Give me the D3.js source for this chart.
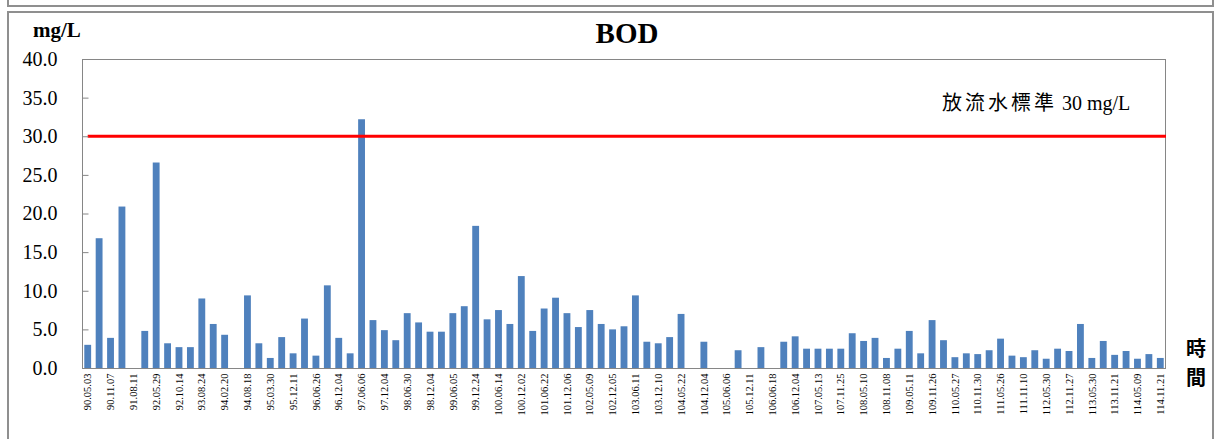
<!DOCTYPE html>
<html>
<head>
<meta charset="utf-8">
<script src="https://cdn.jsdelivr.net/npm/d3@7"></script>
<style>
  body { margin: 0; background: #fff; }
  svg { display: block; }
</style>
</head>
<body>
<svg id="chart" width="1221" height="439"></svg>
<script>
// sampling dates (every other sample is labelled on the axis)
const tickLabels = [
  "90.05.03", "90.11.07", "91.08.11", "92.05.29", "92.10.14", "93.08.24",
  "94.02.20", "94.08.18", "95.03.30", "95.12.11", "96.06.26", "96.12.04",
  "97.06.06", "97.12.04", "98.06.30", "98.12.04", "99.06.05", "99.12.24",
  "100.06.14", "100.12.02", "101.06.22", "101.12.06", "102.05.09", "102.12.05",
  "103.06.11", "103.12.10", "104.05.22", "104.12.04", "105.06.06", "105.12.11",
  "106.06.18", "106.12.04", "107.05.13", "107.11.25", "108.05.10", "108.11.08",
  "109.05.11", "109.11.26", "110.05.27", "110.11.30", "111.05.26", "111.11.10",
  "112.05.30", "112.11.27", "113.05.30", "113.11.21", "114.05.09", "114.11.21"
];

// BOD in mg/L, one value per sample
const bod = [
  3.0, 16.8, 3.9, 20.9, 0, 4.8, 26.6, 3.2, 2.7, 2.7,
  9.0, 5.7, 4.3, 0, 9.4, 3.2, 1.3, 4.0, 1.9, 6.4,
  1.6, 10.7, 3.9, 1.9, 32.2, 6.2, 4.9, 3.6, 7.1, 5.9,
  4.7, 4.7, 7.1, 8.0, 18.4, 6.3, 7.5, 5.7, 11.9, 4.8,
  7.7, 9.1, 7.1, 5.3, 7.5, 5.7, 5.0, 5.4, 9.4, 3.4,
  3.2, 4.0, 7.0, 0, 3.4, 0, 0, 2.3, 0, 2.7,
  0, 3.4, 4.1, 2.5, 2.5, 2.5, 2.5, 4.5, 3.5, 3.9,
  1.3, 2.5, 4.8, 1.9, 6.2, 3.6, 1.4, 1.9, 1.8, 2.3,
  3.8, 1.6, 1.4, 2.3, 1.2, 2.5, 2.2, 5.7, 1.3, 3.5,
  1.7, 2.2, 1.2, 1.8, 1.3
];

const yTicks = [0, 5, 10, 15, 20, 25, 30, 35, 40];
const standard = 30;
const standardName = "放流水標準";
const standardUnit = " 30 mg/L";

const serif = "'Liberation Serif', 'Times New Roman', serif";
const cjk = "'Liberation Serif', 'Noto Sans CJK TC', serif";

const svg = d3.select("#chart");
const plotLeft = 82, plotRight = 1166, plotTop = 59, plotBottom = 368;

// frames of the page boxes
svg.append("rect")
  .attr("x", 8).attr("y", -20).attr("width", 1205).attr("height", 26)
  .attr("fill", "none").attr("stroke", "#8f8f8f").attr("stroke-width", 2);
svg.append("rect")
  .attr("x", 8).attr("y", 12).attr("width", 1205).attr("height", 460)
  .attr("fill", "none").attr("stroke", "#8f8f8f").attr("stroke-width", 2);

const x = d3.scaleBand()
  .domain(d3.range(bod.length))
  .range([plotLeft, plotRight])
  .paddingInner(0.4)
  .paddingOuter(0.2);

const y = d3.scaleLinear()
  .domain([0, 40])
  .range([plotBottom, plotTop]);

// plot area
svg.append("rect")
  .attr("x", plotLeft + 0.5).attr("y", plotTop + 0.5)
  .attr("width", plotRight - plotLeft - 1).attr("height", plotBottom - plotTop)
  .attr("fill", "#fff").attr("stroke", "#868686");

// bars
svg.append("g")
  .selectAll("rect")
  .data(bod)
  .join("rect")
  .attr("x", (d, i) => x(i))
  .attr("y", d => y(d))
  .attr("width", x.bandwidth())
  .attr("height", d => y(0) - y(d))
  .attr("fill", "#4f81bd");

// standard line
svg.append("line")
  .attr("x1", x(0) + x.bandwidth() / 2)
  .attr("x2", plotRight)
  .attr("y1", y(standard))
  .attr("y2", y(standard))
  .attr("stroke", "#ff0000")
  .attr("stroke-width", 3);

const note = svg.append("text")
  .attr("x", 942)
  .attr("y", 110)
  .attr("font-family", cjk)
  .attr("font-size", 20)
  .attr("fill", "#000");
note.append("tspan").attr("letter-spacing", 3).text(standardName);
note.append("tspan").text(standardUnit);

// y axis
const yAxis = svg.append("g")
  .attr("transform", `translate(${plotLeft + 0.5},0)`)
  .call(d3.axisLeft(y).tickValues(yTicks).tickFormat(d3.format(".1f"))
    .tickSize(-6).tickPadding(25));
yAxis.select(".domain").remove();
yAxis.selectAll("line").attr("stroke", "#868686");
yAxis.selectAll("text")
  .attr("font-family", serif)
  .attr("font-size", 20)
  .attr("fill", "#000");

// x axis
const xAxis = svg.append("g")
  .attr("transform", `translate(0,${plotBottom + 0.5})`)
  .call(d3.axisBottom(x)
    .tickValues(d3.range(0, bod.length, 2))
    .tickFormat(i => tickLabels[i / 2])
    .tickSize(0));
xAxis.select(".domain").attr("stroke", "#868686").attr("d", `M${plotLeft},0H${plotRight}`);
xAxis.selectAll("text")
  .attr("transform", "rotate(-90)")
  .attr("text-anchor", "end")
  .attr("x", -5)
  .attr("y", 0)
  .attr("dy", "0.35em")
  .attr("font-family", serif)
  .attr("font-size", 10.5)
  .attr("fill", "#000");

// titles
svg.append("text")
  .attr("x", 627).attr("y", 43)
  .attr("text-anchor", "middle")
  .attr("font-family", serif)
  .attr("font-weight", "bold")
  .attr("font-size", 29)
  .text("BOD");

svg.append("text")
  .attr("x", 33).attr("y", 37)
  .attr("font-family", serif)
  .attr("font-weight", "bold")
  .attr("font-size", 21)
  .text("mg/L");

svg.append("g")
  .selectAll("text")
  .data(["時", "間"])
  .join("text")
  .attr("x", 1196)
  .attr("y", (d, i) => 356 + i * 29)
  .attr("text-anchor", "middle")
  .attr("font-family", "'Noto Sans CJK TC', sans-serif")
  .attr("font-weight", "bold")
  .attr("font-size", 20)
  .text(d => d);
</script>
</body>
</html>
